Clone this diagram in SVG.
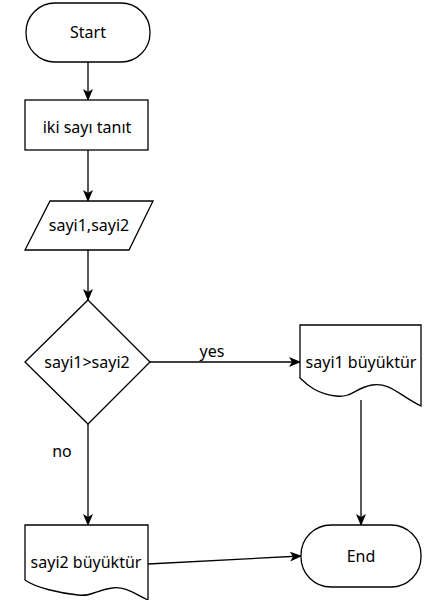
<svg xmlns="http://www.w3.org/2000/svg" width="425" height="600" viewBox="0 0 425 600">
<style>
.s{fill:#fff;stroke:#000;stroke-width:1.3}
.t{font-family:"Noto Sans","Open Sans",sans-serif;font-size:16px;fill:#000;text-anchor:middle;dominant-baseline:central}
.c{fill:none;stroke:#000;stroke-width:1.3}
</style>
<defs>
<marker id="a" viewBox="0 0 12 10" refX="11" refY="5" markerWidth="12" markerHeight="10" markerUnits="userSpaceOnUse" orient="auto">
<path d="M0,0 L12,5 L0,10 L3,5 Z" fill="#000"/>
</marker>
</defs>
<g id="connectors">
<line class="c" x1="88" y1="62" x2="88" y2="100" marker-end="url(#a)"/>
<line class="c" x1="88" y1="150" x2="88" y2="201" marker-end="url(#a)"/>
<line class="c" x1="88" y1="250" x2="88" y2="300" marker-end="url(#a)"/>
<line class="c" x1="150" y1="362" x2="300" y2="362" marker-end="url(#a)"/>
<text class="t" x="212" y="351">yes</text>
<line class="c" x1="88" y1="424" x2="88" y2="525" marker-end="url(#a)"/>
<text class="t" x="62" y="451">no</text>
<line class="c" x1="361" y1="400" x2="361" y2="525" marker-end="url(#a)"/>
<line class="c" x1="148" y1="564" x2="301" y2="556" marker-end="url(#a)"/>
</g>
<g id="start">
<rect class="s" x="26" y="3" width="124" height="59" rx="29" ry="29"/>
<text class="t" x="88" y="32">Start</text>
</g>
<g id="process">
<rect class="s" x="25" y="100" width="123" height="50"/>
<text class="t" x="87" y="127">iki sayı tanıt</text>
</g>
<g id="input">
<polygon class="s" points="50,201 153,201 129,250 25,250"/>
<text class="t" x="89" y="225">sayi1,sayi2</text>
</g>
<g id="decision">
<polygon class="s" points="88,300 150,362 88,424 25,362"/>
<text class="t" x="87" y="362">sayi1&gt;sayi2</text>
</g>
<g id="doc1">
<path class="s" d="M300,325 H421 V406 C400,396 390,382 372,385 C355,388 352,398 336,396 C318,394 308,386 300,378 Z"/>
<text class="t" x="361" y="362">sayi1 büyüktür</text>
</g>
<g id="doc2">
<path class="s" d="M25,525 H148 V600 C135,594 125,586 112,588 C96,590 92,597 78,595 C60,593 36,588 25,580 Z"/>
<text class="t" x="86" y="562">sayi2 büyüktür</text>
</g>
<g id="end">
<rect class="s" x="301" y="525" width="120" height="62" rx="30" ry="30"/>
<text class="t" x="361" y="556">End</text>
</g>
</svg>
